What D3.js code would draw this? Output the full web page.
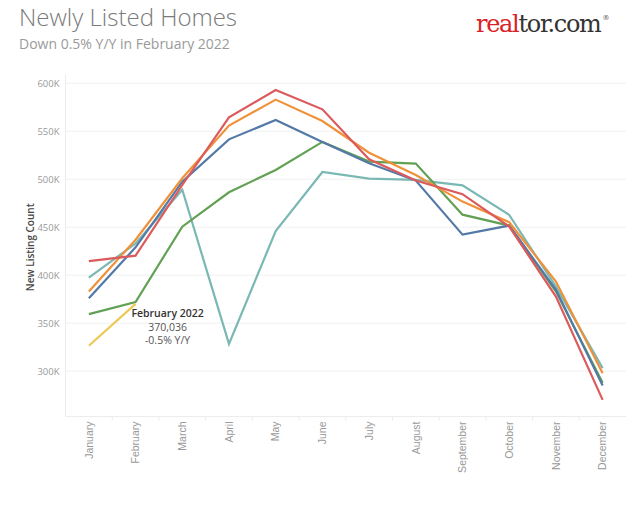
<!DOCTYPE html>
<html>
<head>
<meta charset="utf-8">
<script src="https://cdn.jsdelivr.net/npm/d3@7"></script>
<style>
  html, body { margin: 0; padding: 0; background: #fff; }
  svg { display: block; }
</style>
</head>
<body>
<svg id="chart" width="640" height="510"></svg>
<script>
const months = ["January","February","March","April","May","June","July","August","September","October","November","December"];
const yTicks = [300000, 350000, 400000, 450000, 500000, 550000, 600000];

const s2017 = [376000, 429000, 497500, 541600, 561800, 538900, 516700, 498600, 442300, 451700, 384700, 285000];
const s2018 = [382900, 437000, 501000, 556000, 583000, 560700, 527700, 504500, 476700, 455200, 393400, 297900];
const s2019 = [414600, 420400, 494000, 564600, 593000, 572900, 520800, 498600, 484400, 450600, 377700, 270000];
const s2020 = [397500, 433000, 489000, 328400, 446000, 507600, 500700, 499300, 493700, 462800, 388000, 303100];
const s2021 = [359400, 372000, 450600, 486400, 509700, 538900, 518400, 516300, 463100, 451700, 383000, 288000];
const s2022 = [326400, 370036];

const seriesNames = ["2020", "2021", "2017", "2018", "2019", "2022"];
const seriesValues = [s2020, s2021, s2017, s2018, s2019, s2022];
const seriesColors = ["#7ab8b4", "#62a153", "#5379a6", "#f0913a", "#dc5a5b", "#ecc955"];

const annotation = ["February 2022", "370,036", "-0.5% Y/Y"];

const svg = d3.select("#chart");
const plot = { left: 65.5, right: 626, top: 74, bottom: 416.5 };

const x = d3.scaleBand().domain(months).range([plot.left, plot.right]);
const y = d3.scaleLinear().domain([252700, 609700]).range([plot.bottom, plot.top]);

// Title
svg.append("text").attr("x", 19).attr("y", 26)
  .attr("font-family", "'Open Sans', 'Noto Sans', sans-serif").attr("font-weight", 300)
  .attr("font-size", 24).attr("fill", "#7a7a7a").text("Newly Listed Homes");
svg.append("text").attr("x", 19).attr("y", 49)
  .attr("font-family", "'Open Sans', 'Noto Sans', sans-serif")
  .attr("font-size", 14).attr("fill", "#9a9a9a").text("Down 0.5% Y/Y in February 2022");

// Logo
const logo = svg.append("text").attr("x", 476).attr("y", 32)
  .attr("font-family", "'DejaVu Serif', 'Liberation Serif', serif")
  .attr("font-size", 24).attr("letter-spacing", -1.3);
logo.append("tspan").attr("fill", "#d92228").text("real");
logo.append("tspan").attr("fill", "#333").text("tor.com");
logo.append("tspan").attr("fill", "#555").attr("font-size", 7).attr("dy", -12).attr("dx", 2).text("®");

// Gridlines
svg.append("g").selectAll("line").data(yTicks).join("line")
  .attr("x1", plot.left).attr("x2", plot.right)
  .attr("y1", d => y(d)).attr("y2", d => y(d))
  .attr("stroke", "#f0f0f0").attr("stroke-width", 1);

// Axis lines
svg.append("line").attr("x1", plot.left).attr("x2", plot.left)
  .attr("y1", plot.top).attr("y2", plot.bottom).attr("stroke", "#ececec");
svg.append("line").attr("x1", plot.left).attr("x2", plot.right)
  .attr("y1", plot.bottom).attr("y2", plot.bottom).attr("stroke", "#ececec");

// Y axis
const yAxis = d3.axisLeft(y).tickValues(yTicks).tickSize(0).tickPadding(6)
  .tickFormat(d => (d / 1000) + "K");
const gy = svg.append("g").attr("transform", `translate(${plot.left},0)`).call(yAxis);
gy.select(".domain").remove();
gy.selectAll("text").attr("font-family", "'Open Sans', 'Noto Sans', sans-serif")
  .attr("font-size", 9.5).attr("fill", "#9a9a9a");

svg.append("text")
  .attr("transform", `translate(34,${(plot.top + plot.bottom) / 2 + 2}) rotate(-90)`)
  .attr("text-anchor", "middle")
  .attr("font-family", "'Open Sans', 'Noto Sans', sans-serif").attr("font-weight", 600)
  .attr("font-size", 10).attr("fill", "#444").text("New Listing Count");

// X axis
const xAxis = d3.axisBottom(x).tickSize(0).tickPadding(0);
const gx = svg.append("g").attr("transform", `translate(0,${plot.bottom})`).call(xAxis);
gx.select(".domain").remove();
gx.selectAll("text")
  .attr("font-family", "'Liberation Sans', Arial, sans-serif")
  .attr("font-size", 10.5).attr("fill", "#999")
  .attr("text-anchor", "end")
  .attr("transform", "rotate(-90)")
  .attr("x", -5).attr("y", 0).attr("dy", "0.35em");

// Band separators
svg.append("g").selectAll("line").data(months.slice(1)).join("line")
  .attr("x1", d => x(d)).attr("x2", d => x(d))
  .attr("y1", plot.bottom).attr("y2", plot.bottom + 4)
  .attr("stroke", "#ececec");

// Lines
const line = d3.line()
  .x((d, i) => x(months[i]) + x.bandwidth() / 2)
  .y(d => y(d));

svg.append("g").selectAll("path").data(seriesValues).join("path")
  .attr("d", d => line(d))
  .attr("fill", "none")
  .attr("stroke", (d, i) => seriesColors[i])
  .attr("stroke-width", 2.2)
  .attr("stroke-linejoin", "miter");

// Annotation
const ax = x("February") + x.bandwidth() / 2 + 32;
const ann = svg.append("g").attr("font-family", "'Open Sans', 'Noto Sans', sans-serif")
  .attr("text-anchor", "middle");
ann.append("text").attr("x", ax).attr("y", 317).attr("font-size", 10.5)
  .attr("font-weight", 600).attr("fill", "#333").text(annotation[0]);
ann.append("text").attr("x", ax).attr("y", 330.5).attr("font-size", 10.5)
  .attr("fill", "#555").text(annotation[1]);
ann.append("text").attr("x", ax).attr("y", 344).attr("font-size", 10.5)
  .attr("fill", "#555").text(annotation[2]);
</script>
</body>
</html>
